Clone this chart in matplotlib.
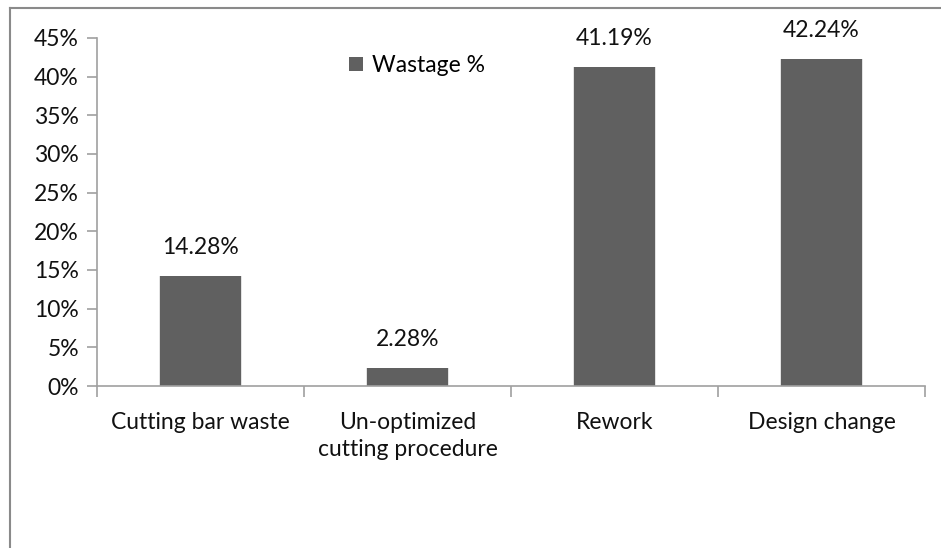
import numpy as np
import matplotlib.pyplot as plt
from matplotlib.lines import Line2D
from matplotlib.ticker import FuncFormatter

# waste causes and their share
causes = ['Cutting bar waste', 'Un-optimized\ncutting procedure', 'Rework', 'Design change']
wastage = [14.28, 2.28, 41.19, 42.24]
series_name = 'Wastage %'

plt.rcParams['font.family'] = ['Lato', 'DejaVu Sans']
fs = 16.5

fig = plt.figure(figsize=(9.41, 5.48), dpi=100)
ax = fig.add_axes([0.1031, 0.2956, 0.8799, 0.6351])

x = np.arange(len(causes))
# soft halo behind each bar
ax.bar(x, wastage, width=0.405, color='#e2e2e2', zorder=1)
bars = ax.bar(x, wastage, width=0.39, color='#606060', label=series_name, zorder=2)

for xi, v in zip(x, wastage):
    ax.annotate('%.2f%%' % v, (xi, v), textcoords='offset points', xytext=(0, 13),
                ha='center', va='bottom', fontsize=fs, color='#111111')

ax.set_xlim(-0.5, len(causes) - 0.5)
ax.set_ylim(0, 45)
ax.set_yticks(np.arange(0, 46, 5))
ax.yaxis.set_major_formatter(FuncFormatter(lambda v, p: '%d%%' % v))

ax.set_xticks(x)
ax.set_xticklabels(causes, linespacing=1.35)
ax.set_xticks(np.arange(-0.5, len(causes)), minor=True)
ax.tick_params(axis='x', which='major', length=0, pad=19, labelsize=fs, colors='#111111')
ax.tick_params(axis='x', which='minor', length=8, color='#a0a0a0', width=1.2)
ax.tick_params(axis='y', length=7, width=1.2, labelsize=fs, pad=6,
               color='#a0a0a0', labelcolor='#111111')

for s in ['top', 'right']:
    ax.spines[s].set_visible(False)
for s in ['left', 'bottom']:
    ax.spines[s].set_color('#a0a0a0')
    ax.spines[s].set_linewidth(1.2)

ax.legend(loc='upper left', bbox_to_anchor=(0.28, 1.01), frameon=False, fontsize=fs,
          handlelength=0.6, handleheight=0.6, handletextpad=0.4)

# outer frame, left and top edges
fig.add_artist(Line2D([10 / 941, 10 / 941], [0, 1 - 8 / 548], color='#8a8a8a', lw=1.5))
fig.add_artist(Line2D([10 / 941, 1], [1 - 8 / 548, 1 - 8 / 548], color='#8a8a8a', lw=1.5))

fig.savefig('out.png', dpi=100)
